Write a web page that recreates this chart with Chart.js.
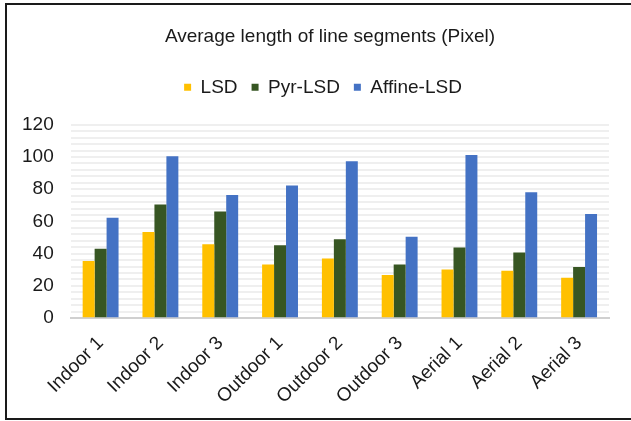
<!DOCTYPE html>
<html>
<head>
<meta charset="utf-8">
<script src="https://cdn.jsdelivr.net/npm/chart.js@4/dist/chart.umd.min.js"></script>
<style>
  html, body { margin: 0; padding: 0; background: #fff; }
  #wrap { width: 631px; height: 421px; position: relative; }
</style>
</head>
<body>
<div id="wrap"><canvas id="myChart" width="631" height="421"></canvas></div>
<script>
const scenes = ['Indoor 1', 'Indoor 2', 'Indoor 3', 'Outdoor 1', 'Outdoor 2', 'Outdoor 3', 'Aerial 1', 'Aerial 2', 'Aerial 3'];
const lsd = [35.5, 53.4, 45.9, 33.3, 37, 26.7, 30.2, 29.4, 25];
const pyrLsd = [43, 70.5, 66.2, 45.3, 49, 33.3, 43.8, 40.7, 31.8];
const affineLsd = [62.3, 100.5, 76.5, 82.3, 97.4, 50.5, 101.2, 78.2, 64.6];

const font = 'Arial, "Liberation Sans", sans-serif';

// white page plus the black frame round the chart
const framePlugin = {
  id: 'frame',
  beforeDraw(chart) {
    const ctx = chart.ctx;
    ctx.save();
    ctx.fillStyle = '#fff';
    ctx.fillRect(0, 0, chart.width, chart.height);
    ctx.strokeStyle = '#1a1a1a';
    ctx.lineWidth = 2;
    ctx.strokeRect(6, 4, 640, 415);
    ctx.restore();
  }
};

// extra room under the legend before the plot starts
const legendGap = {
  id: 'legendGap',
  beforeInit(chart) {
    const fit = chart.legend.fit;
    chart.legend.fit = function () {
      fit.bind(chart.legend)();
      this.height += 18;
    };
  },
  // title and legend sit a bit right of the canvas centre
  afterLayout(chart) {
    chart.titleBlock.left += 23;
    chart.titleBlock.right += 23;
    chart.legend.left += 16;
    chart.legend.right += 16;
  }
};

document.addEventListener("DOMContentLoaded", () => {
  const ctx = document.getElementById('myChart').getContext('2d');
  new Chart(ctx, {
    type: 'bar',
    data: {
      labels: scenes,
      datasets: [
        { label: 'LSD', data: lsd, backgroundColor: '#ffc000' },
        { label: 'Pyr-LSD', data: pyrLsd, backgroundColor: '#375623' },
        { label: 'Affine-LSD', data: affineLsd, backgroundColor: '#4472c4' }
      ]
    },
    options: {
      responsive: false,
      animation: false,
      devicePixelRatio: 1,
      datasets: { bar: { categoryPercentage: 0.6, barPercentage: 1, borderWidth: 0 } },
      layout: { padding: { left: 5, right: 22, top: 14, bottom: 7 } },
      plugins: {
        title: {
          display: true,
          text: 'Average length of line segments (Pixel)',
          color: '#1a1a1a',
          font: { family: font, size: 19, weight: 'normal' },
          padding: { top: 11, bottom: 16 }
        },
        legend: {
          position: 'top',
          labels: {
            color: '#1a1a1a',
            font: { family: font, size: 19 },
            boxWidth: 7,
            boxHeight: 7,
            padding: 14
          }
        },
        tooltip: { enabled: false }
      },
      scales: {
        x: {
          grid: { display: false },
          border: { color: '#d0d0d0', width: 2 },
          ticks: {
            color: '#1a1a1a',
            font: { family: font, size: 19 },
            minRotation: 45,
            maxRotation: 45,
            padding: 6
          }
        },
        y: {
          min: 0,
          max: 120,
          grid: { color: '#d9d9d9', lineWidth: 2, drawTicks: false },
          border: { display: false },
          ticks: {
            stepSize: 20,
            color: '#1a1a1a',
            font: { family: font, size: 19 },
            padding: 17
          }
        },
        yMinor: {
          position: 'left',
          min: 0,
          max: 120,
          afterFit: (scale) => { scale.width = 0; },
          grid: { color: '#efefef', lineWidth: 2, drawTicks: false },
          border: { display: false },
          ticks: { display: false, stepSize: 4 }
        }
      }
    },
    plugins: [framePlugin, legendGap]
  });
});
</script>
</body>
</html>
